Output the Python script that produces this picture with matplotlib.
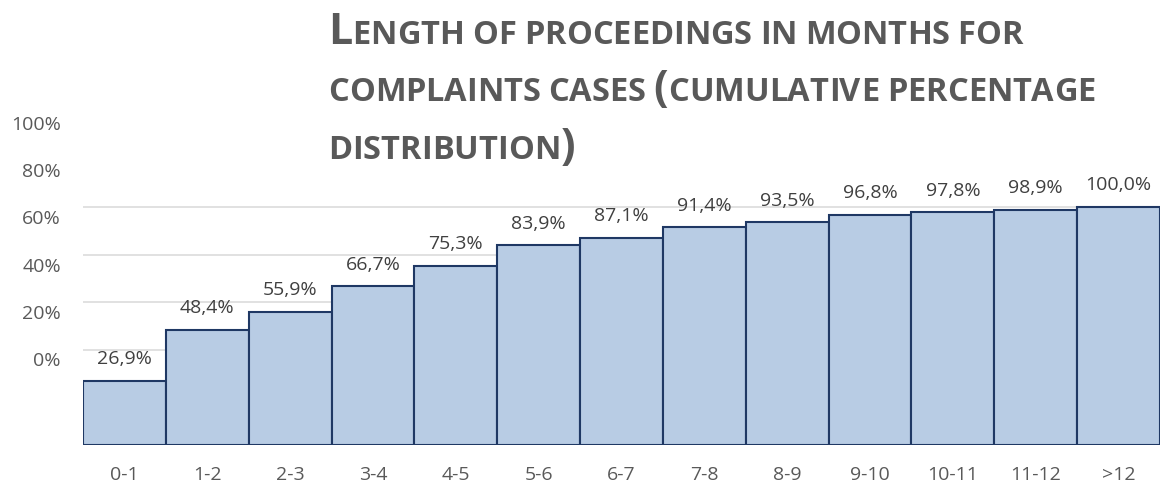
import matplotlib.pyplot as plt
import numpy as np

plt.rcParams['font.family'] = ['Open Sans', 'DejaVu Sans']

categories = ['0-1', '1-2', '2-3', '3-4', '4-5', '5-6', '6-7', '7-8', '8-9',
              '9-10', '10-11', '11-12', '>12']
cumulative = [26.9, 48.4, 55.9, 66.7, 75.3, 83.9, 87.1, 91.4, 93.5,
              96.8, 97.8, 98.9, 100.0]
ytick_labels = ['0%', '20%', '40%', '60%', '80%', '100%']
title_lines = ['Length of proceedings in months for',
               'complaints cases (cumulative percentage',
               'distribution)']

W, H = 1160, 486
fig = plt.figure(figsize=(W / 100, H / 100), dpi=100)
ax = fig.add_axes([83 / W, 1 - 445 / H, 1 - 83 / W, 445 / H])

x = np.arange(len(categories))
vals = np.array(cumulative) / 100

# light gridlines behind bars
for g in np.arange(0, 1.01, 0.2):
    ax.axhline(g, color='#d9d9d9', lw=1.1, zorder=0)

ax.bar(x, vals, width=1.0, color='#b8cce4', edgecolor='#1f3864',
       linewidth=1.5, zorder=2)

for xi, v in zip(x, cumulative):
    ax.annotate(f'{v:.1f}%'.replace('.', ','), (xi, v / 100),
                xytext=(0, 9), textcoords='offset points',
                ha='center', va='bottom', fontsize=14, color='#404040')

ax.set_xlim(-0.5, len(categories) - 0.5)
ax.set_ylim(0, 445 / 238)
ax.set_xticks(x)
ax.set_xticklabels(categories, fontsize=14, color='#595959')
ax.tick_params(axis='x', length=0, pad=15)

# y labels sit offset from the grid, as in the source chart
ax.set_yticks(0.361 + 0.1985 * np.arange(len(ytick_labels)))
ax.set_yticklabels(ytick_labels, fontsize=14, color='#595959')
ax.tick_params(axis='y', length=0, pad=16)

for s in ax.spines.values():
    s.set_visible(False)

# title in small caps: first letter and brackets full size
renderer = fig.canvas.get_renderer()
big, small = 31, 23.5
baselines = [44, 101, 159]
for i, line in enumerate(title_lines):
    xpix = 328
    ypos = 1 - baselines[i] / H
    for ch_i, ch in enumerate(line):
        if ch == ' ':
            xpix += 8
            continue
        large = ch.isupper() or ch in '()'
        t = fig.text(xpix / W, ypos, ch.upper(), fontsize=big if large else small,
                     fontweight='bold', color='#595959', va='baseline', ha='left')
        xpix += t.get_window_extent(renderer).width

fig.savefig('out.png', dpi=100)
